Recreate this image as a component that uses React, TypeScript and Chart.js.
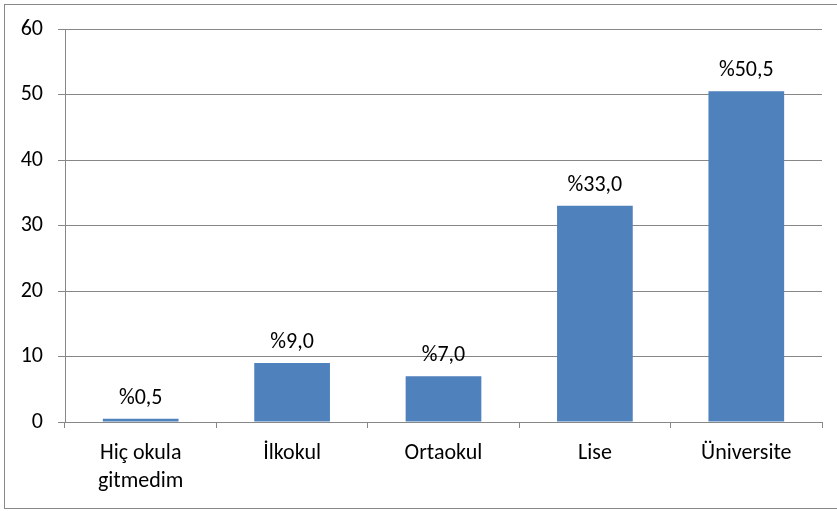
import React, { useEffect, useRef } from "react";
import { Chart, registerables } from "chart.js";

Chart.register(...registerables);

const categories: (string | string[])[] = [["Hiç okula", "gitmedim"], "İlkokul", "Ortaokul", "Lise", "Üniversite"];
const values: number[] = [0.5, 9.0, 7.0, 33.0, 50.5];
const valueLabels: string[] = ["%0,5", "%9,0", "%7,0", "%33,0", "%50,5"];
const yTicks = { min: 0, max: 60, step: 10 };

const FONT = 'Calibri, Carlito, "Open Sans", sans-serif';
const GRID = "#878787";

const labelPlugin = {
  id: "barLabels",
  afterDatasetsDraw(chart: any) {
    const ctx = chart.ctx;
    const meta = chart.getDatasetMeta(0);
    ctx.save();
    ctx.font = `22px ${FONT}`;
    ctx.fillStyle = "#000";
    ctx.textAlign = "center";
    ctx.textBaseline = "alphabetic";
    meta.data.forEach((bar: any, i: number) => {
      ctx.fillText(valueLabels[i], bar.x, bar.y - 15);
    });
    ctx.restore();
  },
};

export default function App() {
  const ref = useRef<HTMLCanvasElement | null>(null);
  useEffect(() => {
    if (!ref.current) return;
    const chart = new Chart(ref.current, {
      type: "bar",
      data: {
        labels: categories,
        datasets: [
          {
            data: values,
            backgroundColor: "#4F81BD",
            categoryPercentage: 1,
            barPercentage: 0.5,
          },
        ],
      },
      options: {
        animation: false,
        responsive: false,
        maintainAspectRatio: false,
        layout: { padding: { top: 29, right: 15, left: 0, bottom: 0 } },
        plugins: { legend: { display: false }, tooltip: { enabled: false } },
        scales: {
          x: {
            grid: { offset: true, drawOnChartArea: false, drawTicks: true, tickLength: 6, color: GRID },
            border: { color: GRID },
            ticks: { color: "#000", font: { family: FONT, size: 22, lineHeight: 1.27 }, padding: 12, maxRotation: 0, autoSkip: false },
            afterFit: (s: any) => { s.height = 89; },
          },
          y: {
            min: yTicks.min,
            max: yTicks.max,
            ticks: { stepSize: yTicks.step, color: "#000", font: { family: FONT, size: 22 }, padding: 15 },
            grid: { color: GRID, tickLength: 7 },
            border: { color: GRID },
            afterFit: (s: any) => { s.width = 65; },
          },
        },
      },
      plugins: [labelPlugin],
    });
    return () => chart.destroy();
  }, []);
  return (
    <div style={{ position: "absolute", left: 0, top: 0, width: 837, height: 511, overflow: "hidden", background: "#fff" }}>
      <div style={{ position: "absolute", left: 4, top: 4, width: 850, height: 503, border: "1px solid #888", boxSizing: "content-box" }} />
      <canvas ref={ref} width={837} height={511} style={{ position: "absolute", left: 0, top: 0 }} />
    </div>
  );
}
